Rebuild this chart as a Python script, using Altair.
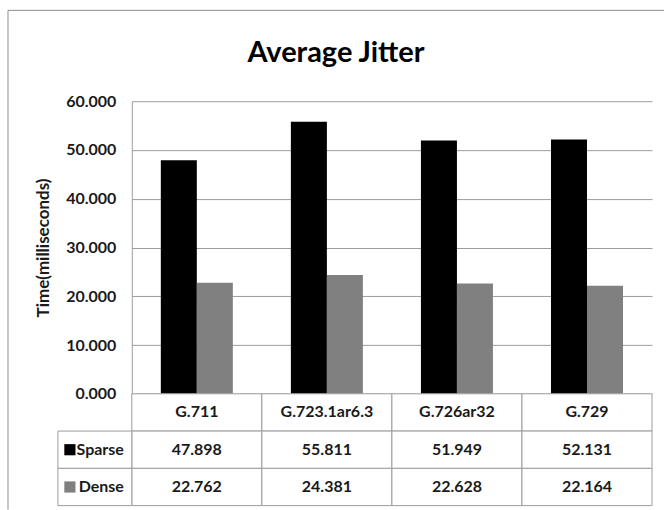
import altair as alt
import pandas as pd

# Chart values
codecs = ["G.711", "G.723.1ar6.3", "G.726ar32", "G.729"]
series = ["Sparse", "Dense"]
sparse = [47.898, 55.811, 51.949, 52.131]
dense = [22.762, 24.381, 22.628, 22.164]
y_ticks = [0, 10, 20, 30, 40, 50, 60]

series_colors = ["#000000", "#808080"]
FONT = "Lato"
GRID = "#9c9c9c"
FRAME = "#8e8e8e"
TEXT = "#1a1a1a"

W = 521
H_PLOT = 293
H_TABLE = 112

bars = pd.DataFrame({
    "codec": codecs * 2,
    "series": [series[0]] * len(codecs) + [series[1]] * len(codecs),
    "jitter": sparse + dense,
})

# Data table under the plot: header row with codec names, then one row per series
table_rows = ["head"] + series
table = pd.DataFrame(
    [{"codec": c, "row": "head", "label": c} for c in codecs]
    + [{"codec": c, "row": series[0], "label": f"{v:.3f}"} for c, v in zip(codecs, sparse)]
    + [{"codec": c, "row": series[1], "label": f"{v:.3f}"} for c, v in zip(codecs, dense)]
)
legend_rows = pd.DataFrame({"row": series, "series": series})
one = pd.DataFrame({"k": [0]})

x_band = alt.X("codec:N", sort=codecs,
               scale=alt.Scale(paddingInner=0, paddingOuter=0), axis=None)
color = alt.Color("series:N", scale=alt.Scale(domain=series, range=series_colors),
                  legend=None)

bar_layer = alt.Chart(bars).mark_bar().encode(
    x=x_band,
    xOffset=alt.XOffset("series:N", sort=series,
                        scale=alt.Scale(paddingInner=0, paddingOuter=0.806)),
    y=alt.Y("jitter:Q",
            scale=alt.Scale(domain=[0, 60], nice=False),
            axis=alt.Axis(values=y_ticks, format=".3f", title="Time(milliseconds)",
                          ticks=False, tickSize=0, labelPadding=16,
                          labelFont=FONT, labelFontSize=16, labelFontWeight="bold",
                          labelColor=TEXT, titleFont=FONT, titleFontSize=17,
                          titleFontWeight="bold", titleColor=TEXT, titlePadding=13,
                          grid=True, gridColor=GRID, domainColor=GRID)),
    color=color,
)

# Outer chart-area frame (left and top edges)
frame_left = alt.Chart(one).mark_rule(color=FRAME, strokeWidth=1).encode(
    x=alt.value(-124), y=alt.value(-91), y2=alt.value(409))
frame_top = alt.Chart(one).mark_rule(color=FRAME, strokeWidth=1).encode(
    y=alt.value(-91), x=alt.value(-124), x2=alt.value(533))

top = alt.layer(frame_left, frame_top, bar_layer).properties(width=W, height=H_PLOT)

y_row = alt.Y("row:N", sort=table_rows,
              scale=alt.Scale(domain=table_rows, paddingInner=0, paddingOuter=0), axis=None)

cells = alt.Chart(table).mark_rect(fill="white", stroke=GRID, strokeWidth=1).encode(
    x=x_band, y=y_row)
cell_text = alt.Chart(table).mark_text(font=FONT, fontSize=16, fontWeight="bold",
                                       color=TEXT, baseline="middle").encode(
    x=x_band, y=y_row, text="label:N")

legend_cells = alt.Chart(legend_rows).mark_rect(fill="white", stroke=GRID, strokeWidth=1).encode(
    x=alt.value(-74), x2=alt.value(0), y=y_row)
legend_keys = alt.Chart(legend_rows).mark_square(size=125, opacity=1, filled=True).encode(
    x=alt.value(-62), y=y_row, color=color)
legend_text = alt.Chart(legend_rows).mark_text(font=FONT, fontSize=16, fontWeight="bold",
                                               color=TEXT, align="right",
                                               baseline="middle").encode(
    x=alt.value(-8), y=y_row, text="row:N")

bottom = alt.layer(cells, cell_text, legend_cells, legend_keys, legend_text).properties(
    width=W, height=H_TABLE)

chart = alt.vconcat(top, bottom, spacing=0, bounds="flush").properties(
    title=alt.Title("Average Jitter", font=FONT, fontSize=29, fontWeight="bold",
                    color="#000000", anchor="middle", dy=62),
    padding={"left": 7, "top": 9, "right": 0, "bottom": 0},
    background="white",
).configure_view(stroke=None)

chart.save("out.html", embed_options={"renderer": "svg", "actions": False})
